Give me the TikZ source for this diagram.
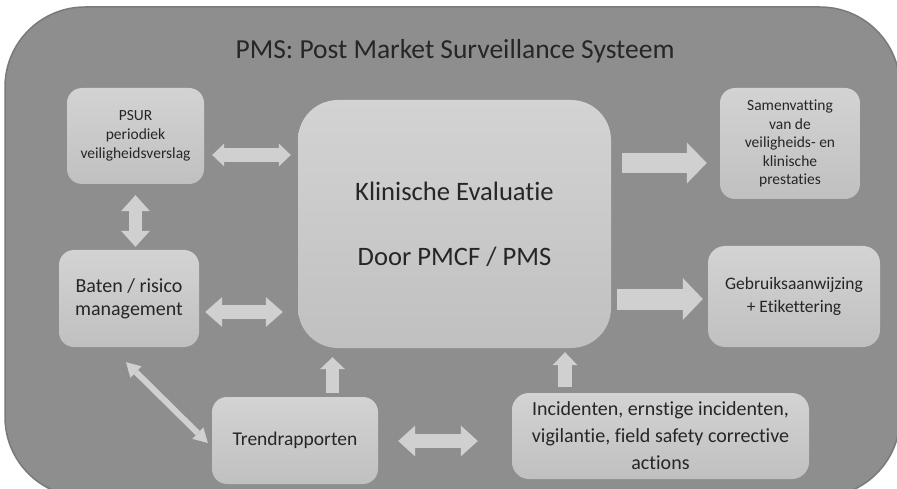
\documentclass[tikz,border=0pt]{standalone}
\usepackage{fontspec}
\setmainfont{Carlito}[Ligatures={NoCommon,NoContextual}]
\usetikzlibrary{arrows.meta}
\definecolor{bg}{HTML}{8E8E8E}
\definecolor{bgedge}{HTML}{7A7A7A}
\definecolor{boxtop}{HTML}{D3D3D3}
\definecolor{boxbot}{HTML}{C0C0C0}
\definecolor{arr}{HTML}{D0D0D0}
\definecolor{txt}{HTML}{262626}
\tikzset{
  box/.style={rectangle, rounded corners=15pt, top color=boxtop, bottom color=boxbot,
    draw=none, text=txt, align=center, inner sep=0pt},
  dbl/.style n args={3}{draw=arr, line width=#1,
    {Triangle[width=#2,length=#3,line width=0pt]}-{Triangle[width=#2,length=#3,line width=0pt]}},
  sgl/.style n args={3}{draw=arr, line width=#1,
    -{Triangle[width=#2,length=#3,line width=0pt]}},
}
\begin{document}
\begin{tikzpicture}[x=1pt,y=-1pt]
\useasboundingbox (0,0) rectangle (897,489);
\clip (0,0) rectangle (897,489);
\fill[white] (0,0) rectangle (897,489);
\draw[fill=bg, draw=bgedge, line width=1.5pt, rounded corners=80pt] (5,7) rectangle (900,497);

\node[text=txt, font=\fontsize{27.5}{33}\selectfont] (title) at (455,51) {PMS: Post Market Surveillance Systeem};

\node[box, minimum width=137pt, minimum height=96pt, font=\fontsize{15.5}{19}\selectfont]
  (psur) at (135.5,136) {PSUR\\periodiek\\veiligheidsverslag};
\node[box, rounded corners=40pt, minimum width=313pt, minimum height=248pt, font=\fontsize{26.6}{65}\selectfont]
  (klin) at (454.5,224) {Klinische Evaluatie\\Door PMCF / PMS};
\node[box, minimum width=140pt, minimum height=111pt, font=\fontsize{15.5}{18.5}\selectfont]
  (samen) at (790,143.5) {Samenvatting\\van de\\veiligheids- en\\klinische\\prestaties};
\node[box, rounded corners=17pt, minimum width=172pt, minimum height=101pt, font=\fontsize{17.5}{23}\selectfont]
  (gebr) at (794,296.5) {Gebruiksaanwijzing\\+ Etikettering};
\node[box, minimum width=140pt, minimum height=97pt, font=\fontsize{20}{23}\selectfont]
  (baten) at (129,298.5) {Baten / risico\\management};
\node[box, minimum width=166pt, minimum height=87pt, font=\fontsize{19.5}{23}\selectfont]
  (trend) at (295,440.5) {Trendrapporten};
\node[box, rounded corners=17pt, minimum width=297pt, minimum height=86pt, font=\fontsize{20}{27}\selectfont]
  (incid) at (660.5,436) {Incidenten, ernstige incidenten,\\vigilantie, field safety corrective\\actions};

% connectors
\draw[dbl={14pt}{23pt}{12pt}, shorten <=8pt, shorten >=7pt]
  ([yshift=-19pt]psur.east) -- ([yshift=-19pt]psur.east -| klin.west);
\draw[dbl={13pt}{29pt}{16pt}, shorten <=11pt, shorten >=3pt]
  (psur.south) -- (psur.south |- baten.north);
\draw[dbl={14pt}{30pt}{17pt}, shorten <=6pt, shorten >=15pt]
  ([yshift=-13.5pt]baten.east) -- ([yshift=-13.5pt]baten.east -| klin.west);
\draw[sgl={20pt}{41pt}{20pt}, shorten <=11pt, shorten >=13pt]
  ([yshift=-19.5pt]samen.west -| klin.east) -- ([yshift=-19.5pt]samen.west);
\draw[sgl={21pt}{42pt}{20pt}, shorten <=6pt, shorten >=5pt]
  ([yshift=-2.5pt]gebr.west -| klin.east) -- ([yshift=-2.5pt]gebr.west);
\draw[dbl={6pt}{16pt}{14pt}]
  ([shift={(-3,15)}]baten.south) -- ([shift={(-4,2.5)}]trend.west);
\draw[sgl={13.5pt}{25pt}{12pt}, shorten <=4pt, shorten >=9pt]
  ([xshift=37.5pt]trend.north) -- ([xshift=37.5pt]trend.north |- klin.south);
\draw[dbl={14pt}{31pt}{17pt}, shorten <=20pt, shorten >=34pt]
  ([yshift=-0.5pt]trend.east) -- ([yshift=-0.5pt]trend.east -| incid.west);
\draw[sgl={14pt}{25pt}{13pt}, shorten <=6pt, shorten >=4pt]
  ([xshift=-95.5pt]incid.north) -- ([xshift=-95.5pt]incid.north |- klin.south);
\end{tikzpicture}
\end{document}
